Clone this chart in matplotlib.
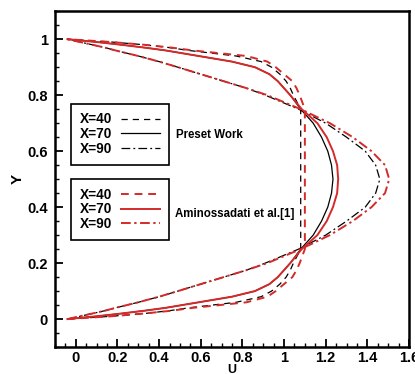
import matplotlib
matplotlib.use("Agg")
import matplotlib.pyplot as plt
from matplotlib.ticker import MultipleLocator

plt.rcParams['font.family'] = ['Liberation Sans', 'DejaVu Sans']
plt.rcParams['font.weight'] = 'bold'

# Y positions across the channel
y = [0, 0.01, 0.02, 0.03, 0.04, 0.06, 0.08, 0.10, 0.125, 0.15, 0.175, 0.20,
     0.25, 0.30, 0.35, 0.40, 0.45, 0.50, 0.55, 0.60, 0.65, 0.70, 0.75,
     0.80, 0.825, 0.85, 0.875, 0.90, 0.92, 0.94, 0.96, 0.97, 0.98, 0.99, 1.0]

# present work (black)
u40_present = [-0.04, 0.17, 0.33, 0.45, 0.54, 0.77, 0.89, 0.94, 0.98, 1.01, 1.03, 1.045,
               1.08, 1.08, 1.08, 1.08, 1.08, 1.08, 1.08, 1.08, 1.08, 1.08, 1.08,
               1.045, 1.03, 1.01, 0.98, 0.94, 0.89, 0.77, 0.54, 0.45, 0.33, 0.17, -0.04]
u70_present = [-0.04, 0.10, 0.22, 0.33, 0.43, 0.59, 0.75, 0.86, 0.93, 0.97, 1.00, 1.03,
               1.08, 1.14, 1.18, 1.21, 1.228, 1.235, 1.228, 1.21, 1.18, 1.14, 1.08,
               1.03, 1.00, 0.97, 0.93, 0.86, 0.75, 0.59, 0.43, 0.33, 0.22, 0.10, -0.04]
u90_present = [-0.04, 0.02, 0.08, 0.14, 0.19, 0.30, 0.40, 0.49, 0.60, 0.71, 0.82, 0.91,
               1.07, 1.20, 1.30, 1.39, 1.44, 1.46, 1.44, 1.39, 1.30, 1.20, 1.07,
               0.91, 0.82, 0.71, 0.60, 0.49, 0.40, 0.30, 0.19, 0.14, 0.08, 0.02, -0.04]

# Aminossadati et al. [1] (red)
u40_amino = [-0.04, 0.17, 0.33, 0.46, 0.56, 0.82, 0.92, 0.96, 1.00, 1.04, 1.06, 1.075,
             1.10, 1.10, 1.10, 1.10, 1.10, 1.10, 1.10, 1.10, 1.10, 1.10, 1.10,
             1.075, 1.06, 1.04, 1.00, 0.96, 0.92, 0.82, 0.56, 0.46, 0.33, 0.17, -0.04]
u70_amino = [-0.04, 0.10, 0.22, 0.33, 0.43, 0.59, 0.75, 0.86, 0.93, 0.97, 1.00, 1.03,
             1.085, 1.16, 1.205, 1.235, 1.255, 1.26, 1.255, 1.235, 1.205, 1.16, 1.085,
             1.03, 1.00, 0.97, 0.93, 0.86, 0.75, 0.59, 0.43, 0.33, 0.22, 0.10, -0.04]
u90_amino = [-0.04, 0.02, 0.08, 0.14, 0.19, 0.30, 0.40, 0.49, 0.60, 0.71, 0.82, 0.92,
             1.08, 1.22, 1.33, 1.42, 1.485, 1.505, 1.485, 1.42, 1.33, 1.22, 1.08,
             0.92, 0.82, 0.71, 0.60, 0.49, 0.40, 0.30, 0.19, 0.14, 0.08, 0.02, -0.04]

labels = ["X=40", "X=70", "X=90"]
xticks = [0, 0.2, 0.4, 0.6, 0.8, 1, 1.2, 1.4, 1.6]
xtick_labels = ["0", "0.2", "0.4", "0.6", "0.8", "1", "1.2", "1.4", "1.6"]
yticks = [0, 0.2, 0.4, 0.6, 0.8, 1]
ytick_labels = ["0", "0.2", "0.4", "0.6", "0.8", "1"]

red = "#d42a2a"

fig = plt.figure(figsize=(4.15, 3.74), dpi=100)
ax = fig.add_axes([0.1325, 0.072, 0.853, 0.898])

# black curves
l1, = ax.plot(u40_present, y, color="black", lw=0.9, dashes=(5, 4))
l2, = ax.plot(u70_present, y, color="black", lw=0.9)
l3, = ax.plot(u90_present, y, color="black", lw=0.9, dashes=(7, 2.5, 1.5, 2.5))
# red curves
r1, = ax.plot(u40_amino, y, color=red, lw=1.4, dashes=(4, 3))
r2, = ax.plot(u70_amino, y, color=red, lw=1.4)
r3, = ax.plot(u90_amino, y, color=red, lw=1.4, dashes=(5, 1.8, 1.2, 1.8))

ax.set_xlim(-0.1, 1.6)
ax.set_ylim(-0.1, 1.1)
ax.set_xticks(xticks)
ax.set_xticklabels(xtick_labels)
ax.set_yticks(yticks)
ax.set_yticklabels(ytick_labels)
ax.xaxis.set_minor_locator(MultipleLocator(0.05))
ax.yaxis.set_minor_locator(MultipleLocator(0.05))
ax.tick_params(which="major", direction="in", length=6, width=1.3, labelsize=10.5, pad=3)
ax.tick_params(which="minor", direction="in", length=3, width=1.0)
ax.tick_params(axis="y", pad=5)
for s in ax.spines.values():
    s.set_linewidth(1.8)

ax.set_xlabel("U", fontsize=9, fontweight="bold", labelpad=-1)
ax.set_ylabel("Y", fontsize=11, fontweight="bold", labelpad=2)

leg_opts = dict(loc="upper left", markerfirst=False, fancybox=False, edgecolor="black",
                framealpha=1, fontsize=9.8, handlelength=2.9, handletextpad=0.65,
                labelspacing=0.05, borderpad=0.65, borderaxespad=0)
leg1 = ax.legend([l1, l2, l3], labels, bbox_to_anchor=(0.045, 0.725), **leg_opts)
leg1.get_frame().set_linewidth(1.2)
ax.add_artist(leg1)
leg2 = ax.legend([r1, r2, r3], labels, bbox_to_anchor=(0.045, 0.501), **leg_opts)
leg2.get_frame().set_linewidth(1.2)

ax.text(0.342, 0.632, "Preset Work", transform=ax.transAxes, fontsize=8.3,
        fontweight="bold", va="center", ha="left")
ax.text(0.340, 0.397, "Aminossadati et al.[1]", transform=ax.transAxes, fontsize=8.3,
        fontweight="bold", va="center", ha="left")

fig.savefig("out.png", dpi=100)
